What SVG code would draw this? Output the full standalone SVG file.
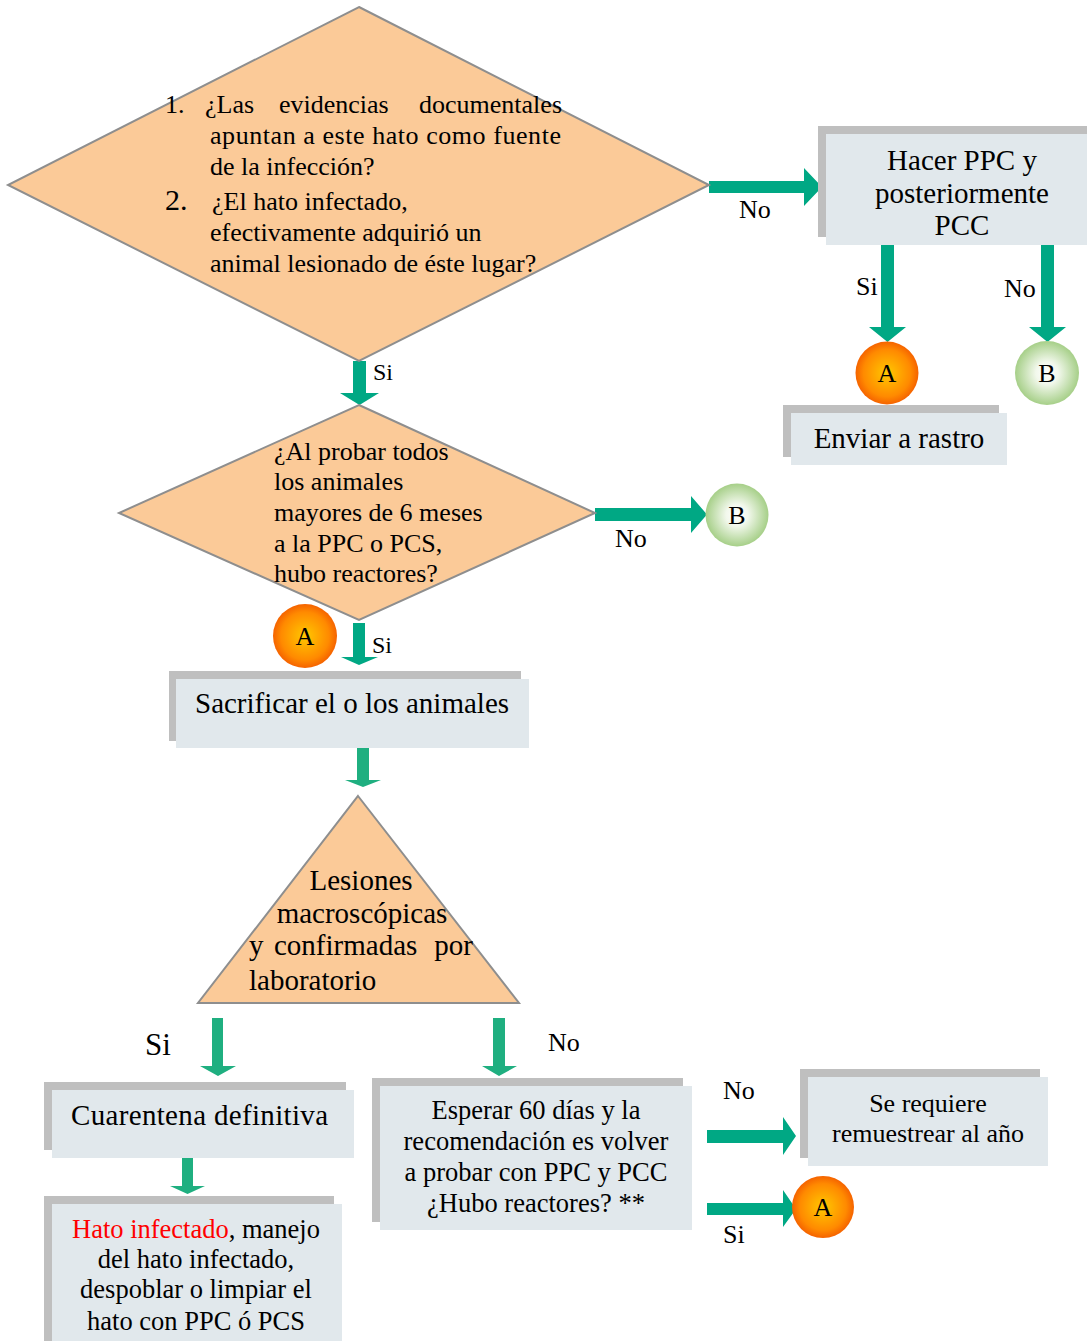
<svg xmlns="http://www.w3.org/2000/svg" width="1087" height="1341" viewBox="0 0 1087 1341">
<style>
.dec{fill:#FBCA98;stroke:#8E8E8E;stroke-width:2}
.shd{fill:#BFBFBF}
.box{fill:#E1E8EC}
.t{font-family:"Liberation Serif","Times New Roman",serif;fill:#000}
.s26{font-size:26px}
.s29{font-size:29px}
.c{text-anchor:middle}
.ar1{fill:#00A884}
.ar2{fill:#1FAF80}
.lt{font-family:"Liberation Serif","Times New Roman",serif;font-size:26px;text-anchor:middle}
</style>
<defs>
<radialGradient id="gA" cx="0.5" cy="0.5" r="0.5">
<stop offset="0" stop-color="#FFC800"/>
<stop offset="0.75" stop-color="#FF8A00"/>
<stop offset="1" stop-color="#F56300"/>
</radialGradient>
<radialGradient id="gB" cx="0.5" cy="0.5" r="0.5">
<stop offset="0" stop-color="#FFFFFF"/>
<stop offset="0.35" stop-color="#F2F8EC"/>
<stop offset="1" stop-color="#A6CF88"/>
</radialGradient>
</defs>

<g id="connectors">
<polygon class="ar1" points="709,181 804,181 804,168 822,187 804,206 804,193 709,193"/>
<polygon class="ar1" points="881,244 894,244 894,327 906,327 887.5,342 869,327 881,327"/>
<polygon class="ar1" points="1041,244 1054,244 1054,327 1066,327 1047.5,342 1029,327 1041,327"/>
<polygon class="ar1" points="353,361 366,361 366,393 379,393 359.5,405 340,393 353,393"/>
<polygon class="ar1" points="595,508 691,508 691,496 707,514.5 691,533 691,521 595,521"/>
<polygon class="ar1" points="353,623 365,623 365,657 378,657 359,665 341,657 353,657"/>
<polygon class="ar2" points="357,748 369,748 369,780 381,780 363,787 345,780 357,780"/>
<polygon class="ar2" points="212,1018 223,1018 223,1066 236,1066 218,1076 200,1066 212,1066"/>
<polygon class="ar2" points="493,1018 505,1018 505,1066 517,1066 499,1076 482,1066 493,1066"/>
<polygon class="ar2" points="182,1158 193,1158 193,1186 205,1186 187.5,1194 170,1186 182,1186"/>
<polygon class="ar1" points="707,1130 783,1130 783,1117 796,1136 783,1155 783,1143 707,1143"/>
<polygon class="ar1" points="707,1203 783,1203 783,1190 796,1209 783,1227 783,1215 707,1215"/>
<text class="t s26" x="739" y="218">No</text>
<text class="t s26" x="856" y="295">Si</text>
<text class="t s26" x="1004" y="297">No</text>
<text class="t" style="font-size:24px" x="373" y="380">Si</text>
<text class="t s26" x="615" y="547">No</text>
<text class="t" style="font-size:24px" x="372" y="653">Si</text>
<text class="t" style="font-size:31px" x="145" y="1055">Si</text>
<text class="t s26" x="548" y="1051">No</text>
<text class="t s26" x="723" y="1099">No</text>
<text class="t s26" x="723" y="1243">Si</text>
</g>

<g id="decision1">
<polygon class="dec" points="359,7 709,185 359,361 8,185"/>
<text class="t s26" x="165" y="113">1.</text>
<text class="t s26" x="205" y="113">¿Las</text>
<text class="t s26" x="279" y="113">evidencias</text>
<text class="t s26" x="562" y="113" text-anchor="end">documentales</text>
<text class="t s26" x="210" y="144" textLength="351">apuntan a este hato como fuente</text>
<text class="t s26" x="210" y="175">de la infección?</text>
<text class="t" style="font-size:30px" x="165" y="210">2.</text>
<text class="t s26" x="212" y="210">¿El hato infectado,</text>
<text class="t s26" x="210" y="241">efectivamente adquirió un</text>
<text class="t s26" x="210" y="272">animal lesionado de éste lugar?</text>
</g>

<g id="box-hacer">
<rect class="shd" x="818" y="126" width="269" height="111"/>
<rect class="box" x="826" y="134" width="261" height="111"/>
<text class="t s29 c" x="962" y="170">Hacer PPC y</text>
<text class="t s29 c" x="962" y="203">posteriormente</text>
<text class="t s29 c" x="962" y="235">PCC</text>
</g>

<g id="circle-A1">
<circle cx="887" cy="373" r="31.5" fill="url(#gA)"/>
<text class="lt" x="887" y="382">A</text>
</g>
<g id="circle-B1">
<circle cx="1047" cy="373" r="32" fill="url(#gB)"/>
<text class="lt" x="1047" y="382">B</text>
</g>

<g id="box-enviar">
<rect class="shd" x="783" y="405" width="216" height="52"/>
<rect class="box" x="791" y="413" width="216" height="52"/>
<text class="t s29 c" x="899" y="448">Enviar a rastro</text>
</g>

<g id="decision2">
<polygon class="dec" points="359,405 595,513 359,620 119,513"/>
<text class="t s26" x="274" y="460">¿Al probar todos</text>
<text class="t s26" x="274" y="490">los animales</text>
<text class="t s26" x="274" y="521">mayores de 6 meses</text>
<text class="t s26" x="274" y="552">a la PPC o PCS,</text>
<text class="t s26" x="274" y="582">hubo reactores?</text>
</g>

<g id="circle-B2">
<circle cx="737" cy="515" r="31.5" fill="url(#gB)"/>
<text class="lt" x="737" y="524">B</text>
</g>
<g id="circle-A2">
<circle cx="305" cy="636" r="32" fill="url(#gA)"/>
<text class="lt" x="305" y="645">A</text>
</g>

<g id="box-sacrificar">
<rect class="shd" x="169" y="671" width="352" height="70"/>
<rect class="box" x="176" y="679" width="353" height="69"/>
<text class="t s29" x="195" y="713">Sacrificar el o los animales</text>
</g>

<g id="triangle-lesiones">
<polygon class="dec" points="358,796 519,1003 198,1003"/>
<text class="t s29 c" x="361" y="890">Lesiones</text>
<text class="t s29 c" x="362" y="923">macroscópicas</text>
<text class="t s29" x="249" y="955">y</text>
<text class="t s29" x="274" y="955">confirmadas</text>
<text class="t s29" x="473" y="955" text-anchor="end">por</text>
<text class="t s29" x="249" y="990">laboratorio</text>
</g>

<g id="box-cuarentena">
<rect class="shd" x="44" y="1082" width="302" height="68"/>
<rect class="box" x="52" y="1090" width="302" height="68"/>
<text class="t s29" x="71" y="1125" textLength="257">Cuarentena definitiva</text>
</g>

<g id="box-hato">
<rect class="shd" x="44" y="1196" width="290" height="145"/>
<rect class="box" x="52" y="1204" width="290" height="137"/>
<text class="t c" style="font-size:26.5px" x="196" y="1238"><tspan fill="#FF0000">Hato infectado</tspan>, manejo</text>
<text class="t c" style="font-size:26.5px" x="196" y="1268">del hato infectado,</text>
<text class="t c" style="font-size:26.5px" x="196" y="1298">despoblar o limpiar el</text>
<text class="t c" style="font-size:26.5px" x="196" y="1330">hato con PPC ó PCS</text>
</g>

<g id="box-esperar">
<rect class="shd" x="372" y="1078" width="311" height="144"/>
<rect class="box" x="380" y="1086" width="312" height="144"/>
<text class="t c" style="font-size:26.5px" x="536" y="1119">Esperar 60 días y la</text>
<text class="t c" style="font-size:26.5px" x="536" y="1150">recomendación es volver</text>
<text class="t c" style="font-size:26.5px" x="536" y="1181">a probar con PPC y PCC</text>
<text class="t c" style="font-size:26.5px" x="536" y="1212">¿Hubo reactores? **</text>
</g>

<g id="box-remuestrear">
<rect class="shd" x="800" y="1069" width="240" height="89"/>
<rect class="box" x="808" y="1077" width="240" height="89"/>
<text class="t s26 c" x="928" y="1112">Se requiere</text>
<text class="t s26 c" x="928" y="1142">remuestrear al año</text>
</g>

<g id="circle-A3">
<circle cx="823" cy="1207" r="31" fill="url(#gA)"/>
<text class="lt" x="823" y="1216">A</text>
</g>
</svg>
